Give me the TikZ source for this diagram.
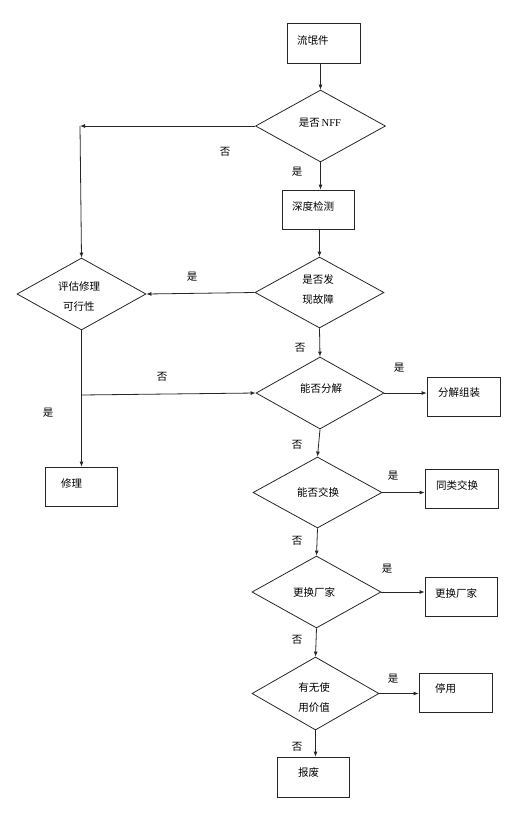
\documentclass[tikz,border=0pt]{standalone}
\usepackage{fontspec}
\setmainfont{Liberation Serif}
\newfontfamily\cjk{Noto Sans CJK SC}
\usetikzlibrary{shapes.geometric,arrows.meta}
\begin{document}
\begin{tikzpicture}[x=1pt,y=-1pt,
  font=\cjk\fontsize{10.5}{20}\selectfont,
  every node/.style={inner sep=0pt},
  line/.style={draw=black!85,line width=0.8pt},
  arr/.style={line,-{Latex[length=5pt,width=4pt]}},
  box/.style={draw=black!85,line width=0.8pt,rectangle,minimum width=72pt,minimum height=39pt},
  dec/.style={draw=black!85,line width=0.8pt,diamond,minimum width=#1,minimum height=72pt,aspect=1.8},
  dec/.default=129pt,
  txt/.style={align=center},
  lab/.style={}]
\useasboundingbox (0,0) rectangle (529,815);
% boxes
\node[box,minimum width=73pt,minimum height=40pt] (b1) at (323.5,43) {};
\node[txt,anchor=west] (t1) at (297,41) {流氓件};
\node[box] (b2) at (318,209.5) {};
\node[txt,anchor=west] (t2) at (292,206) {深度检测};
\node[box,minimum width=73pt] (b3) at (463.5,396.5) {};
\node[txt,anchor=west] (t3) at (438,393) {分解组装};
\node[box] (b4) at (81,486.5) {};
\node[txt,anchor=west] (t4) at (61,483) {修理};
\node[box,minimum width=73pt] (b5) at (461.5,488.5) {};
\node[txt,anchor=west] (t5) at (436,485) {同类交换};
\node[box] (b6) at (461,596.5) {};
\node[txt,anchor=west] (t6) at (435,593) {更换厂家};
\node[box,minimum width=73pt] (b7) at (455.5,692.5) {};
\node[txt,anchor=west] (t7) at (435,689) {停用};
\node[box,minimum height=40pt] (b8) at (313,777) {};
\node[txt,anchor=west] (t8) at (298,773) {报废};
% diamonds
\node[dec=130pt] (d1) at (320.5,126) {};
\node[txt] (e1) at (320,123) {是否\,{\rmfamily NFF}};
\node[dec] (d2) at (81.5,294) {};
\node[txt] (e2) at (79,297) {评估修理\\可行性};
\node[dec,minimum height=71pt] (d3) at (319.5,292.5) {};
\node[txt] (e3) at (318,289) {是否发\\现故障};
\node[dec=128pt] (d4) at (320,393) {};
\node[txt] (e4) at (321,389) {能否分解};
\node[dec,minimum height=71pt] (d5) at (317.5,492.5) {};
\node[txt] (e5) at (318,492) {能否交换};
\node[dec] (d6) at (316.5,592) {};
\node[txt] (e6) at (314,592) {更换厂家};
\node[dec=127pt,minimum height=73pt] (d7) at (315.5,693.5) {};
\node[txt] (e7) at (314,698) {有无使\\用价值};
% helper coordinates
\coordinate (c1) at (80,126);
\coordinate (c2) at (81,395);
% connectors
\draw[arr] (d1.north |- b1.south) -- (d1.north);
\draw[arr] (d1.south) -- (d1.south |- b2.north);
\draw[arr] (d3.north |- b2.south) -- (d3.north);
\draw[arr] (d3.south) -- (d4.north);
\draw[arr] (d4.south) -- (d5.north);
\draw[arr] (d5.south) -- (d6.north);
\draw[arr] (d6.south) -- (d7.north);
\draw[arr] (d7.south) -- (d7.south |- b8.north);
\draw[arr] (d1.west) -- (c1);
\draw[arr] (c1) -- (d2.north);
\draw[arr] (d3.west) -- (d2.east);
\draw[arr] (d2.south) -- (d2.south |- b4.north);
\draw[arr] (c2) -- (d4.west);
\draw[arr] (d4.east) -- (d4.east -| b3.west);
\draw[arr] (d5.east) -- (d5.east -| b5.west);
\draw[arr] (d6.east) -- (d6.east -| b6.west);
\draw[arr] (d7.east) -- (d7.east -| b7.west);
% labels
\node[lab] (l1) at (225,152) {否};
\node[lab] (l2) at (297,172) {是};
\node[lab] (l3) at (192,277) {是};
\node[lab] (l4) at (300,348) {否};
\node[lab] (l5) at (162,377) {否};
\node[lab] (l6) at (48,413) {是};
\node[lab] (l7) at (399,368) {是};
\node[lab] (l8) at (297,445) {否};
\node[lab] (l9) at (393,476) {是};
\node[lab] (l10) at (297,541) {否};
\node[lab] (l11) at (387,569) {是};
\node[lab] (l12) at (297,640) {否};
\node[lab] (l13) at (393,679) {是};
\node[lab] (l14) at (297,747) {否};
\end{tikzpicture}
\end{document}
